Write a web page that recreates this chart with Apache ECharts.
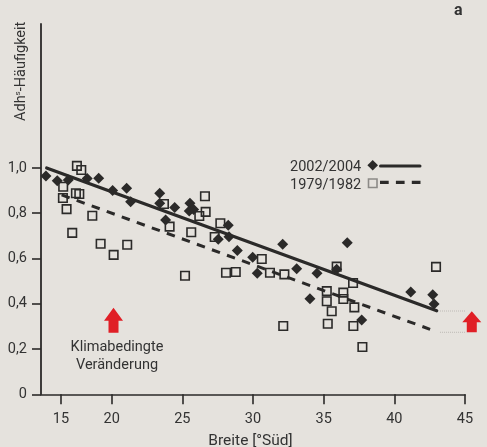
<!DOCTYPE html>
<html><head><meta charset="utf-8">
<script src="https://cdn.jsdelivr.net/npm/echarts@6/dist/echarts.min.js"></script>
<style>html,body{margin:0;padding:0;background:#e5e2dd}#c{width:487px;height:447px}</style></head>
<body><div id="c"></div>
<script>
// [lat position on the drawn axis, frequency]
const series2002 = [[15.35,.965],[16.15,.944],[16.93,.947],[18.27,.953],[19.08,.954],[20.07,.900],[21.06,.910],[21.34,.851],[23.4,.888],[23.4,.844],[24.46,.825],[23.82,.770],[25.54,.844],[25.49,.810],[25.8,.817],[27.54,.685],[28.25,.747],[28.3,.696],[28.89,.635],[29.98,.605],[30.3,.535],[32.1,.663],[33.09,.555],[34.53,.535],[35.92,.552],[36.67,.670],[34.03,.422],[41.16,.452],[42.72,.440],[42.81,.399],[37.69,.328]];
const series1979 = [[17.54,1.009],[17.85,.991],[16.57,.917],[16.55,.867],[16.81,.818],[17.47,.888],[17.71,.885],[18.63,.789],[17.21,.713],[19.22,.665],[20.14,.616],[21.10,.661],[23.70,.841],[24.10,.741],[25.63,.716],[25.19,.524],[26.60,.875],[26.65,.806],[26.20,.788],[27.69,.756],[27.29,.695],[28.09,.537],[28.78,.540],[30.62,.598],[31.20,.537],[32.22,.530],[35.92,.564],[37.08,.492],[42.95,.563],[35.22,.456],[35.22,.411],[36.39,.449],[36.39,.421],[37.17,.384],[35.57,.367],[35.29,.312],[37.10,.302],[37.74,.209],[32.14,.302]];
const trend2002 = [[15.4,1.0],[43.0,.369]];
const trend1979 = [[16.46,.881],[42.53,.287]];
const arrows = [[20.13,.327],[45.48,.32]];
const guideUpper = [[43.23,.368],[46.56,.368]];
const guideLower = [[43.23,.274],[46.56,.274]];
// the "15" tick sits off the regular spacing in the source figure
const xTickPositions = [16.41,20,25,30,35,40,45];
const xTickLabels = ['15','20','25','30','35','40','45'];
const yTicks = [0,.2,.4,.6,.8,1];
const yTickLabels = ['0','0,2','0,4','0,6','0,8','1,0'];

const ink = '#2b2a29', txt = '#333333', red = '#e01f26', FONT = 'Roboto';
const arrowPath = 'path://M9.5,0 L19,13 L14.5,13 L14.5,25 L4.5,25 L4.5,13 L0,13 Z';
const chart = echarts.init(document.getElementById('c'), null, {renderer:'canvas'});
const guide = d => ({type:'line',data:d,symbol:'none',silent:true,clip:false,z:1,
  lineStyle:{color:'#bdbab5',width:1,type:[1,1]}});
chart.setOption({
  animation:false, backgroundColor:'#e5e2dd',
  textStyle:{fontFamily:FONT},
  grid:{left:41,right:22,top:24,bottom:52.7,containLabel:false,outerBoundsMode:'none'},
  xAxis:{type:'value',min:15,max:45,splitLine:{show:false},
    name:'Breite [°Süd]',nameLocation:'middle',nameGap:39,
    nameTextStyle:{fontFamily:FONT,fontSize:15.5,color:txt,padding:[0,5,0,0]},
    axisLine:{show:true,onZero:false,lineStyle:{color:ink,width:1.6}},
    axisTick:{show:true,length:10,customValues:xTickPositions,lineStyle:{color:ink,width:1.6}},
    axisLabel:{show:true,margin:18,fontFamily:FONT,fontSize:14.5,color:txt,customValues:xTickPositions,
      formatter:v=>xTickLabels[xTickPositions.indexOf(v)]}},
  yAxis:{type:'value',min:0,max:1.636,splitLine:{show:false},
    name:'Adh{s|s}-Häufigkeit',nameLocation:'end',nameRotate:90,nameGap:-97,
    nameTextStyle:{fontFamily:FONT,fontSize:14.5,color:txt,padding:[0,0,40,0],rich:{s:{fontSize:8,fontFamily:FONT,color:txt,verticalAlign:'top',lineHeight:12}}},
    axisLine:{show:true,onZero:false,lineStyle:{color:ink,width:1.8}},
    axisTick:{show:true,length:9,customValues:yTicks,lineStyle:{color:ink,width:1.6}},
    axisLabel:{show:true,margin:14,fontFamily:FONT,fontSize:14.5,color:txt,customValues:yTicks,
      formatter:v=>yTickLabels[yTicks.indexOf(v)]}},
  series:[
    guide(guideUpper), guide(guideLower),
    {type:'line',name:'1979/1982 Trend',data:trend1979,symbol:'none',z:3,lineStyle:{color:ink,width:3,type:[8.5,7.5]}},
    {type:'line',name:'2002/2004 Trend',data:trend2002,symbol:'none',z:3,lineStyle:{color:ink,width:3.2,cap:'round'}},
    {type:'scatter',name:'2002/2004',data:series2002,symbol:'diamond',symbolSize:11,z:4,itemStyle:{color:ink,opacity:1}},
    {type:'scatter',name:'1979/1982',data:series1979,symbol:'rect',symbolSize:8.5,z:5,itemStyle:{color:'rgba(0,0,0,0)',borderColor:ink,borderWidth:1.6,opacity:1}},
    {type:'scatter',name:'Klimabedingte Veränderung',data:[arrows[0]],symbol:arrowPath,symbolSize:[19,25],clip:false,z:4,itemStyle:{color:red,opacity:1}},
    {type:'scatter',name:'Klimabedingte Veränderung',data:[arrows[1]],symbol:arrowPath,symbolSize:[19,21],clip:false,z:4,itemStyle:{color:red,opacity:1}}
  ],
  graphic:[
    {type:'text',left:454,top:3,style:{text:'a',font:'bold 16px '+FONT,fill:'#333'}},
    {type:'text',x:117,y:347,style:{text:'Klimabedingte',font:'14.5px '+FONT,fill:txt,align:'center',verticalAlign:'middle'}},
    {type:'text',x:117,y:365,style:{text:'Veränderung',font:'14.5px '+FONT,fill:txt,align:'center',verticalAlign:'middle'}},
    {type:'text',x:290,y:167,style:{text:'2002/2004',font:'14.5px '+FONT,fill:txt,verticalAlign:'middle'}},
    {type:'text',x:290,y:185,style:{text:'1979/1982',font:'14.5px '+FONT,fill:txt,verticalAlign:'middle'}},
    {type:'polygon',shape:{points:[[372.7,160],[378,165.3],[372.7,170.6],[367.4,165.3]]},style:{fill:ink}},
    {type:'rect',shape:{x:368.5,y:179,width:8.5,height:8.5},style:{fill:'none',stroke:'#8c8a87',lineWidth:1.6}},
    {type:'line',shape:{x1:380.5,y1:166,x2:420,y2:166},style:{stroke:ink,lineWidth:3,lineCap:'round'}},
    {type:'line',shape:{x1:380,y1:182.3,x2:421,y2:182.3},style:{stroke:ink,lineWidth:3.2,lineDash:[8.7,7.2]}}
  ]
});
</script></body></html>
